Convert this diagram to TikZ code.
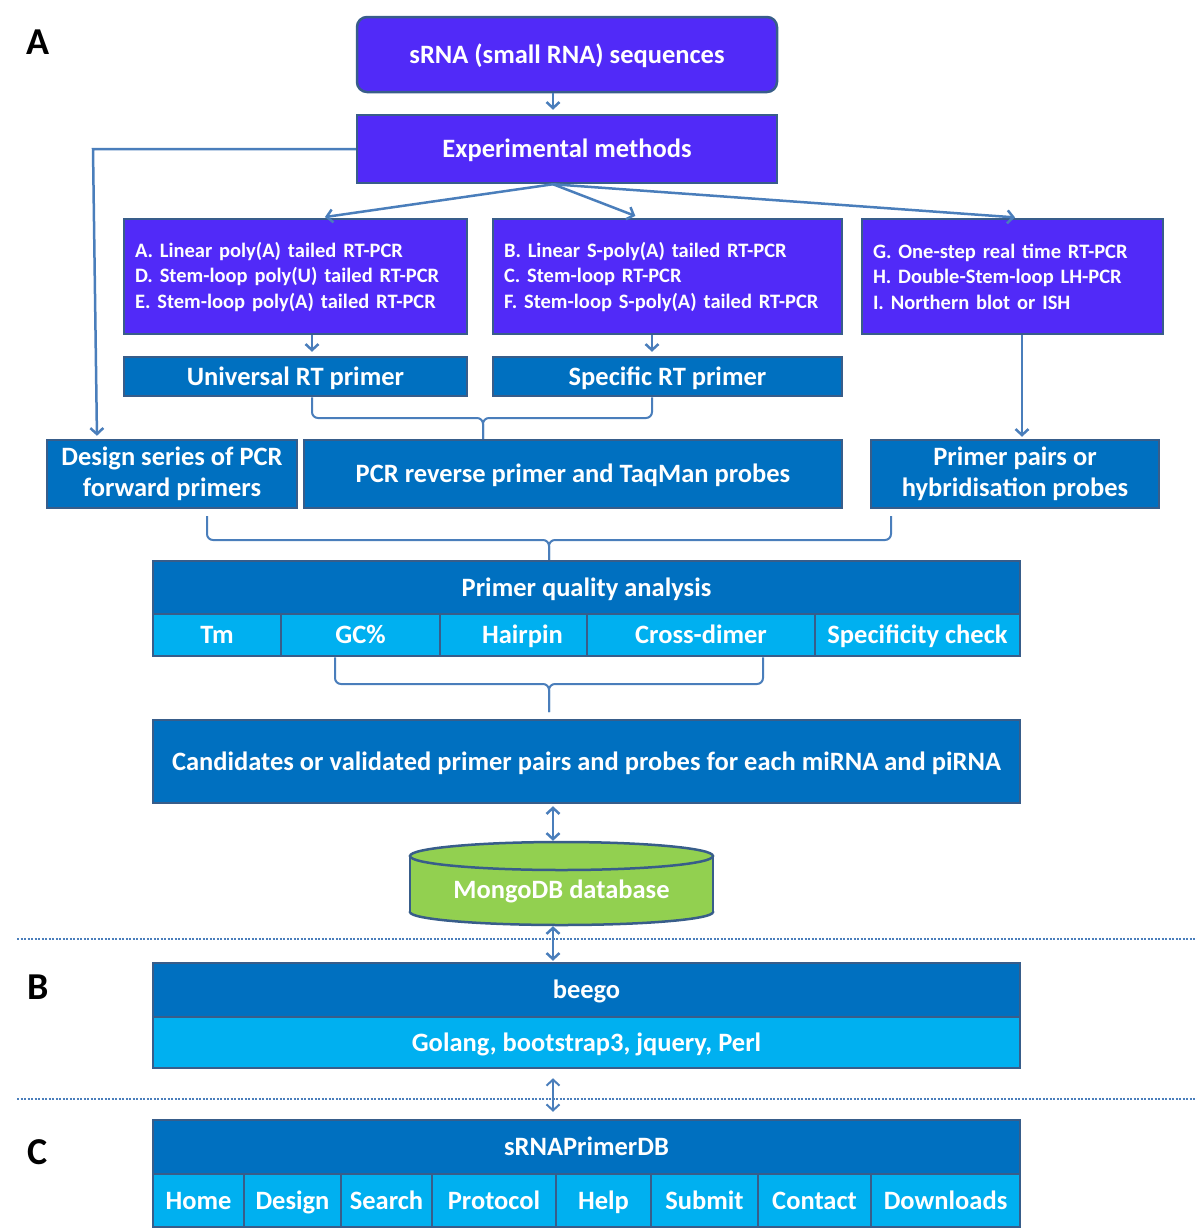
\documentclass[tikz,border=0pt]{standalone}
\usepackage{fontspec}
\setmainfont{Carlito}
\usetikzlibrary{arrows.meta,calc}
\definecolor{methodfill}{RGB}{81,42,248}
\definecolor{darkfill}{RGB}{0,112,192}
\definecolor{lightfill}{RGB}{0,176,240}
\definecolor{edge}{RGB}{56,93,138}
\definecolor{link}{RGB}{74,126,187}
\definecolor{dbfill}{RGB}{146,208,80}
\begin{document}
\begin{tikzpicture}[x=1pt,y=-1pt,
  box/.style={draw=edge, line width=2.5pt, text=white, inner sep=0pt, align=center,
    font=\bfseries\fontsize{26.5}{31}\selectfont},
  oneline/.style={text height=21pt, text depth=4pt},
  methodbox/.style={box, fill=methodfill},
  darkbox/.style={box, fill=darkfill},
  lightbox/.style={box, fill=lightfill, oneline},
  listbox/.style={methodbox, align=left,
    font=\bfseries\fontsize{20.5}{25.5}\selectfont},
  arr/.style={draw=link, line width=2.5pt, -{Straight Barb[length=6pt,width=13pt]}},
  dbl/.style={draw=link, line width=2.5pt, {Straight Barb[length=6pt,width=13pt]}-{Straight Barb[length=6pt,width=13pt]}},
  bracket/.style={draw=link, line width=2pt, rounded corners=6pt},
  sepline/.style={draw=link, line width=2.5pt, dash pattern=on 2pt off 1.5pt},
  panel/.style={font=\bfseries\fontsize{38}{42}\selectfont, text=black}]
\useasboundingbox (0,0) rectangle (1197,1232);

% panel letters
\node[panel] (labA) at (38,42) {A};
\node[panel] (labB) at (38,987) {B};
\node[panel] (labC) at (38,1152) {C};

% axis used by the vertical connectors
\coordinate (ax) at (553,0);

% input and methods
\node[methodbox, oneline, rounded corners=10pt, minimum width=420pt, minimum height=75pt] (src) at (567,54.5) {sRNA (small RNA) sequences};
\node[methodbox, oneline, minimum width=420pt, minimum height=68pt] (exp) at (567,149) {Experimental methods};

\node[listbox, minimum width=343pt, minimum height=115pt, text width=321pt] (m1) at (295.5,276.5)
  {A. Linear poly(A) tailed RT-PCR\\D. Stem-loop poly(U) tailed RT-PCR\\E. Stem-loop poly(A) tailed RT-PCR};
\node[listbox, minimum width=349pt, minimum height=115pt, text width=327pt] (m2) at (667.5,276.5)
  {B. Linear S-poly(A) tailed RT-PCR\\C. Stem-loop RT-PCR\\F. Stem-loop S-poly(A) tailed RT-PCR};
\node[listbox, minimum width=301pt, minimum height=115pt, text width=279pt] (m3) at (1012.5,276.5)
  {G. One-step real time RT-PCR\\H. Double-Stem-loop LH-PCR\\I. Northern blot or ISH};

% RT primers
\node[darkbox, oneline, minimum width=343pt, minimum height=39pt] (univ) at (295.5,376.5) {Universal RT primer};
\node[darkbox, oneline, minimum width=349pt, minimum height=39pt] (spec) at (667.5,376.5) {Specific RT primer};

% PCR primers and probes
\node[darkbox, minimum width=250pt, minimum height=68pt] (fwd) at (172,474) {Design series of PCR\\forward primers};
\node[darkbox, oneline, minimum width=538pt, minimum height=68pt] (rev) at (573,474) {PCR reverse primer and TaqMan probes};
\node[darkbox, minimum width=288pt, minimum height=68pt] (pairs) at (1015,474) {Primer pairs or\\hybridisation probes};

% quality analysis
\node[darkbox, oneline, minimum width=867pt, minimum height=53pt] (qa) at (586.5,587.5) {Primer quality analysis};
\node[lightbox, minimum width=128pt, minimum height=42pt] (tm) at (217,635) {Tm};
\node[lightbox, minimum width=159pt, minimum height=42pt] (gc) at (360.5,635) {GC\%};
\node[lightbox, minimum width=147pt, minimum height=42pt] (hp) at (513.5,635) {\hspace*{18pt}Hairpin};
\node[lightbox, minimum width=228pt, minimum height=42pt] (cd) at (701,635) {Cross-dimer};
\node[lightbox, minimum width=205pt, minimum height=42pt] (sc) at (917.5,635) {Specificity check};

% results
\node[darkbox, oneline, minimum width=867pt, minimum height=83pt] (cand) at (586.5,761.5)
  {Candidates or validated primer pairs and probes for each miRNA and piRNA};

% database cylinder
\node[minimum width=303pt, minimum height=83pt, inner sep=0pt] (db) at (561.5,883.5) {};
\filldraw[fill=dbfill, draw=edge, line width=2.5pt] (561.5,912) ellipse[x radius=151.5pt, y radius=13pt];
\fill[dbfill] (410,856) rectangle (713,912);
\draw[edge, line width=2.5pt] (410,856) -- (410,912) (713,856) -- (713,912);
\filldraw[fill=dbfill, draw=edge, line width=2.5pt] (561.5,856) ellipse[x radius=151.5pt, y radius=14pt];
\node[text=white, oneline, inner sep=0pt, font=\bfseries\fontsize{26.5}{31}\selectfont] (dbtext) at (561.5,890) {MongoDB database};

% web framework
\node[darkbox, oneline, minimum width=867pt, minimum height=54pt] (beego) at (586.5,990) {beego};
\node[lightbox, minimum width=867pt, minimum height=51pt] (stack) at (586.5,1042.5) {Golang, bootstrap3, jquery, Perl};

% web site
\node[darkbox, oneline, minimum width=867pt, minimum height=54pt] (site) at (586.5,1147) {sRNAPrimerDB};
\node[lightbox, minimum width=91pt, minimum height=53pt] (home) at (198.5,1200.5) {Home};
\node[lightbox, minimum width=97pt, minimum height=53pt] (design) at (292.5,1200.5) {Design};
\node[lightbox, minimum width=91pt, minimum height=53pt] (search) at (386.5,1200.5) {Search};
\node[lightbox, minimum width=124pt, minimum height=53pt] (protocol) at (494,1200.5) {Protocol};
\node[lightbox, minimum width=95pt, minimum height=53pt] (help) at (603.5,1200.5) {Help};
\node[lightbox, minimum width=107pt, minimum height=53pt] (submit) at (704.5,1200.5) {Submit};
\node[lightbox, minimum width=113pt, minimum height=53pt] (contact) at (814.5,1200.5) {Contact};
\node[lightbox, minimum width=149pt, minimum height=53pt] (downloads) at (945.5,1200.5) {Downloads};

% layer separators
\draw[sepline] (17,939) -- (1197,939);
\draw[sepline] (17,1099) -- (1197,1099);

% connectors
\draw[arr, shorten >=4pt] (src.south -| ax) -- (exp.north -| ax);
\draw[arr, shorten >=5pt] (exp.south -| ax) -- (m1.north -| 320,0);
\draw[arr, shorten >=5pt] (exp.south -| ax) -- (m2.north -| 640,0);
\draw[arr, shorten >=5pt] (exp.south -| ax) -- (m3.north -| 1020,0);
\coordinate (lc) at (93,149);
\draw[arr, shorten >=3pt] (exp.west) -- (lc) -- (fwd.north -| 97,0);
\draw[arr, shorten >=4pt] (m1.south -| 312,0) -- (univ.north -| 312,0);
\draw[arr, shorten >=4pt] (m2.south -| 652,0) -- (spec.north -| 652,0);
\draw[arr, shorten >=2pt] (m3.south -| 1022,0) -- (pairs.north -| 1022,0);

% brackets joining the primer boxes
\coordinate (k1) at (483,418);
\draw[bracket] (univ.south -| 312,0) |- (k1) -- (k1 |- rev.north);
\draw[bracket] (spec.south -| 652,0) |- (k1) -- (k1 |- rev.north);

\coordinate (k2l) at (207,516);
\coordinate (k2r) at (891,516);
\coordinate (k2) at (549,540);
\draw[bracket] (k2l) |- (k2) -- (k2 |- qa.north);
\draw[bracket] (k2r) |- (k2) -- (k2 |- qa.north);

\coordinate (k3) at (549,684);
\coordinate (k3e) at (549,712);
\draw[bracket] (gc.south -| 335,0) |- (k3) -- (k3e);
\draw[bracket] (cd.south -| 763,0) |- (k3) -- (k3e);

% data flow between the layers
\draw[dbl, shorten <=2pt, shorten >=1pt] (cand.south -| ax) -- (db.north -| ax);
\draw[dbl, shorten <=1pt, shorten >=1pt] (db.south -| ax) -- (beego.north -| ax);
\draw[dbl, line width=2pt, shorten <=9pt, shorten >=7pt] (stack.south -| ax) -- (site.north -| ax);
\end{tikzpicture}
\end{document}
